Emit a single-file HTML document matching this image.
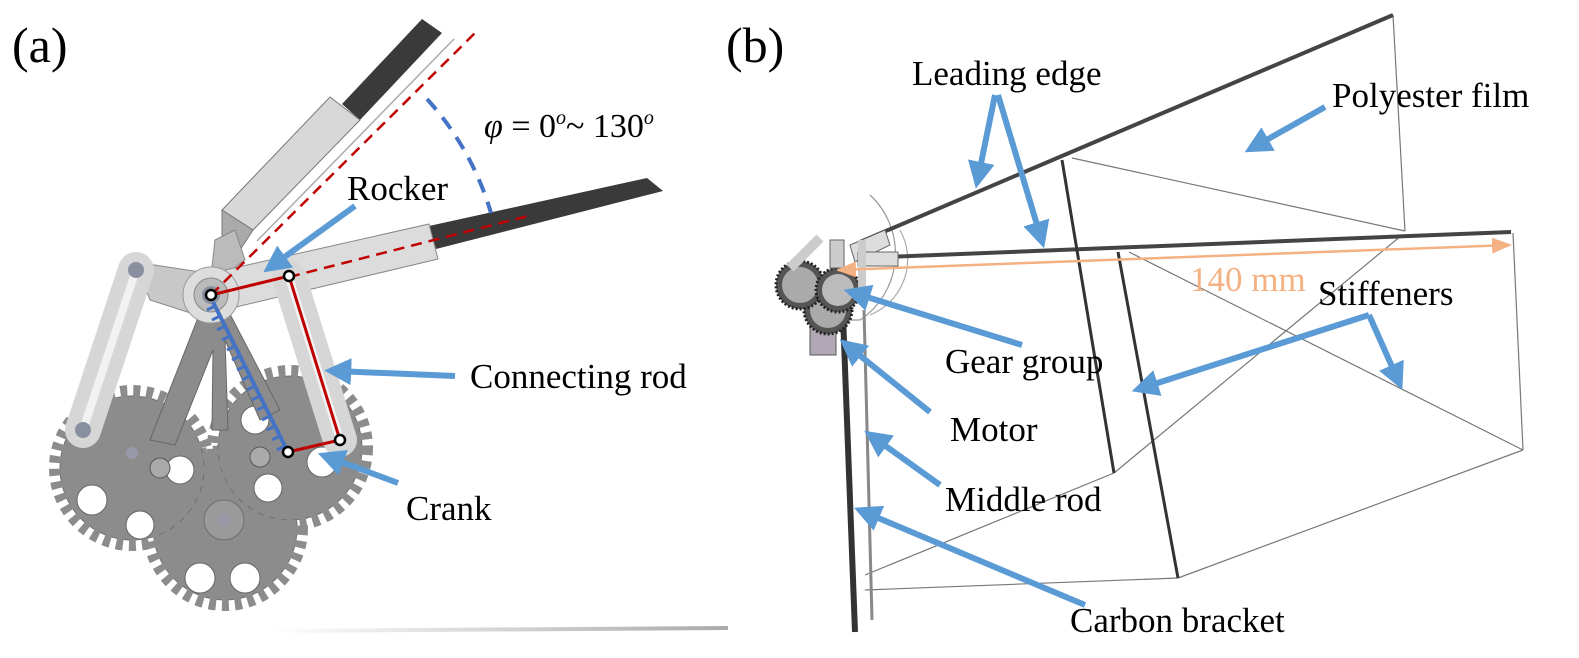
<!DOCTYPE html>
<html><head><meta charset="utf-8"><style>
html,body{margin:0;padding:0;background:#fff;}
svg{display:block;}
text{font-family:"Liberation Serif",serif;fill:#000;}
</style></head><body>
<svg width="1579" height="658" viewBox="0 0 1579 658" xmlns="http://www.w3.org/2000/svg">
<defs>
<marker id="bh" viewBox="0 0 10 10" refX="6" refY="5" markerWidth="4.5" markerHeight="4.5" orient="auto"><path d="M0,0 L10,5 L0,10 z" fill="#5b9bd5"/></marker>
<marker id="oh" viewBox="0 0 10 10" refX="9" refY="5" markerWidth="8" markerHeight="8" orient="auto-start-reverse"><path d="M0,1 L10,5 L0,9 z" fill="#f4b183"/></marker>
<linearGradient id="sh" x1="0" x2="1"><stop offset="0" stop-color="#fff"/><stop offset="1" stop-color="#aaa"/></linearGradient>
</defs>

<text x="12" y="62" font-size="50">(a)</text>
<line x1="270" y1="631" x2="728" y2="628" stroke="url(#sh)" stroke-width="4"/>

<g fill="#8c8c8c" stroke="#6e6e6e">
<circle cx="225" cy="528" r="72"/>
<circle cx="225" cy="528" r="77" fill="none" stroke="#8c8c8c" stroke-width="12" stroke-dasharray="7 6"/>
<circle cx="132" cy="468" r="72"/>
<circle cx="132" cy="468" r="77" fill="none" stroke="#8c8c8c" stroke-width="12" stroke-dasharray="7 6"/>
<circle cx="290" cy="448" r="72"/>
<circle cx="290" cy="448" r="77" fill="none" stroke="#8c8c8c" stroke-width="12" stroke-dasharray="7 6"/>
<circle cx="224" cy="520" r="20" fill="#9a9a9a"/>
</g>
<g fill="#fff" stroke="#666" stroke-width="1">
<circle cx="92" cy="500" r="15"/><circle cx="140" cy="525" r="14"/><circle cx="180" cy="470" r="14"/>
<circle cx="200" cy="578" r="15"/><circle cx="245" cy="578" r="15"/>
<circle cx="268" cy="488" r="14"/><circle cx="322" cy="462" r="15"/><circle cx="255" cy="420" r="14"/>
</g>
<circle cx="160" cy="468" r="10" fill="#aaa" stroke="#555"/>
<circle cx="260" cy="457" r="10" fill="#aaa" stroke="#555"/>
<circle cx="224" cy="520" r="6" fill="#99a"/>
<circle cx="132" cy="453" r="6" fill="#99a"/>

<polygon points="205,300 150,440 175,445 213,350 212,430 228,430 225,340 260,420 280,410 220,295" fill="#8c8c8c" stroke="#666"/>
<polygon points="135,262 220,275 212,320 150,300" fill="#c8c8c8" stroke="#888"/>

<polygon points="422,19 442,33 360,120 342,104" fill="#3a3a3a"/>
<polygon points="330,97 360,120 253,230 222,210" fill="#d8d8d8" stroke="#777"/>
<polygon points="222,210 253,230 240,250 222,235" fill="#aaa" stroke="#777"/>
<line x1="454" y1="39" x2="257" y2="241" stroke="#aaa" stroke-width="1.5"/>
<polygon points="215,240 235,230 245,260 210,285" fill="#bbb" stroke="#888"/>

<polygon points="429,226 647,178 663,191 436,249" fill="#3a3a3a"/>
<polygon points="225,270 429,224 438,259 232,308" fill="#dcdcdc" stroke="#888"/>

<line x1="136" y1="270" x2="83" y2="430" stroke="#d6d6d6" stroke-width="36" stroke-linecap="round"/>
<line x1="289" y1="277" x2="340" y2="440" stroke="#d6d6d6" stroke-width="34" stroke-linecap="round"/>
<line x1="136" y1="270" x2="83" y2="430" stroke="#f2f2f2" stroke-width="8"/>
<line x1="289" y1="277" x2="340" y2="440" stroke="#f2f2f2" stroke-width="8"/>
<circle cx="136" cy="270" r="8" fill="#8890a0"/>
<circle cx="83" cy="430" r="8" fill="#8890a0"/>
<circle cx="211" cy="295" r="28" fill="#ddd" stroke="#999"/>
<circle cx="211" cy="295" r="17" fill="#bbb" stroke="#888"/>
<circle cx="211" cy="295" r="9" fill="#8890a0"/>

<line x1="211" y1="295" x2="477" y2="31" stroke="#c00000" stroke-width="2.5" stroke-dasharray="11 7"/>
<line x1="289" y1="277" x2="528" y2="216" stroke="#c00000" stroke-width="2.5" stroke-dasharray="11 7"/>
<path d="M427,99 A292,292 0 0 1 491,213" fill="none" stroke="#4472c4" stroke-width="4" stroke-dasharray="14 10"/>
<text x="484" y="137" font-size="34"><tspan font-style="italic">φ</tspan> = 0<tspan font-size="20" dy="-13" font-style="italic">o</tspan><tspan dy="13">~ 130</tspan><tspan font-size="20" dy="-13" font-style="italic">o</tspan></text>

<line x1="213" y1="302" x2="288" y2="452" stroke="#4472c4" stroke-width="4"/>
<path d="M215,306 l-8,4 M220,316 l-8,4 M225,326 l-8,4 M230,336 l-8,4 M235,346 l-8,4 M240,356 l-8,4 M245,366 l-8,4 M250,376 l-8,4 M255,386 l-8,4 M260,396 l-8,4 M265,406 l-8,4 M270,416 l-8,4 M275,426 l-8,4 M280,436 l-8,4 M285,446 l-8,4" stroke="#4472c4" stroke-width="3"/>
<polyline points="211,295 289,276 340,440 288,452" fill="none" stroke="#c00000" stroke-width="3"/>
<g fill="#fff" stroke="#000" stroke-width="2.5">
<circle cx="211" cy="295" r="5"/><circle cx="289" cy="276" r="5"/><circle cx="340" cy="440" r="5"/><circle cx="288" cy="452" r="5"/>
</g>

<g stroke="#5b9bd5" stroke-width="6" marker-end="url(#bh)">
<line x1="355" y1="206" x2="272" y2="266"/>
<line x1="455" y1="376" x2="335" y2="371"/>
<line x1="398" y1="483" x2="328" y2="457"/>
</g>
<text x="347" y="200" font-size="35">Rocker</text>
<text x="470" y="388" font-size="35">Connecting rod</text>
<text x="406" y="520" font-size="35">Crank</text>

<text x="726" y="62" font-size="50">(b)</text>
<g fill="none" stroke="#777" stroke-width="1.2">
<line x1="1393" y1="15" x2="1405" y2="231"/>
<line x1="1072" y1="158" x2="1405" y2="231"/>
<line x1="1129" y1="252" x2="1523" y2="450"/>
<line x1="1513" y1="233" x2="1523" y2="450"/>
<line x1="1523" y1="450" x2="1178" y2="578"/>
<line x1="1178" y1="578" x2="865" y2="590"/>
<line x1="1402" y1="235" x2="1114" y2="473"/>
<line x1="1114" y1="473" x2="865" y2="575"/>
<path d="M870,195 A80,80 0 0 1 860,320 L820,320" stroke="#999"/>
<path d="M900,230 A60,60 0 0 1 870,315" stroke="#aaa"/>
</g>
<line x1="860" y1="242" x2="1393" y2="15" stroke="#444" stroke-width="4"/>
<line x1="860" y1="258" x2="1511" y2="232" stroke="#444" stroke-width="4"/>
<line x1="1062" y1="160" x2="1114" y2="473" stroke="#333" stroke-width="3"/>
<line x1="1118" y1="252" x2="1178" y2="578" stroke="#333" stroke-width="3"/>
<line x1="843" y1="315" x2="855" y2="632" stroke="#333" stroke-width="6"/>
<line x1="864" y1="310" x2="872" y2="620" stroke="#888" stroke-width="3"/>

<polygon points="850,245 885,230 890,245 855,262" fill="#ddd" stroke="#666"/>
<rect x="858" y="252" width="40" height="14" fill="#ddd" stroke="#666"/>
<rect x="810" y="320" width="26" height="35" fill="#b0a8b4" stroke="#555"/>
<circle cx="828" cy="310" r="24" fill="#555" stroke="#222" stroke-width="3" stroke-dasharray="2 2"/>
<circle cx="828" cy="310" r="18" fill="#aaa"/>
<circle cx="800" cy="285" r="24" fill="#555" stroke="#222" stroke-width="3" stroke-dasharray="2 2"/>
<circle cx="800" cy="285" r="18" fill="#aaa"/>
<circle cx="838" cy="290" r="22" fill="#555" stroke="#222" stroke-width="3" stroke-dasharray="2 2"/>
<circle cx="838" cy="290" r="16" fill="#bbb"/>
<line x1="790" y1="268" x2="820" y2="238" stroke="#ccc" stroke-width="10"/>
<rect x="830" y="240" width="14" height="28" fill="#ccc" stroke="#666"/>
<line x1="862" y1="240" x2="862" y2="290" stroke="#ccc" stroke-width="8"/>

<line x1="838" y1="270" x2="1510" y2="245" stroke="#f4b183" stroke-width="2.5" marker-start="url(#oh)" marker-end="url(#oh)"/>
<text x="1190" y="291" font-size="35" style="fill:#f4b183">140 mm</text>

<g stroke="#5b9bd5" stroke-width="6" fill="none" marker-end="url(#bh)">
<line x1="995" y1="95" x2="978" y2="178"/>
<line x1="998" y1="95" x2="1041" y2="238"/>
<line x1="1325" y1="107" x2="1254" y2="147"/>
<polyline points="1369,315 1142,388"/>
<polyline points="1369,315 1398,380"/>
<line x1="1022" y1="345" x2="854" y2="293"/>
<line x1="930" y1="412" x2="848" y2="346"/>
<line x1="940" y1="485" x2="873" y2="437"/>
<line x1="1085" y1="605" x2="864" y2="512"/>
</g>
<text x="912" y="85" font-size="35">Leading edge</text>
<text x="1332" y="107" font-size="35">Polyester film</text>
<text x="1318" y="305" font-size="35">Stiffeners</text>
<text x="945" y="373" font-size="35">Gear group</text>
<text x="950" y="441" font-size="35">Motor</text>
<text x="945" y="511" font-size="35">Middle rod</text>
<text x="1070" y="632" font-size="35">Carbon bracket</text>
</svg>
</body></html>
